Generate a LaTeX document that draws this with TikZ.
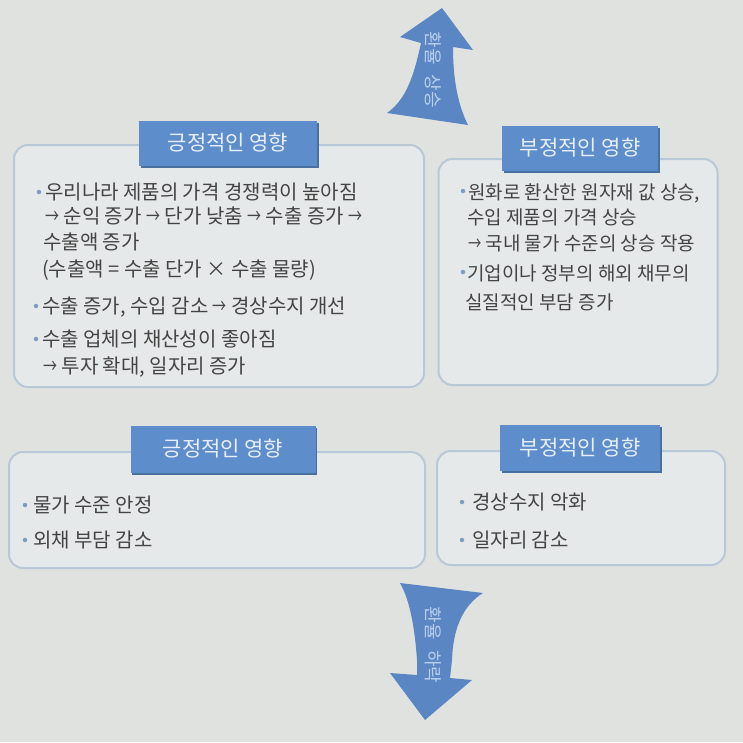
\documentclass[tikz,border=0pt]{standalone}
\usepackage{graphicx}
\usepackage{fontspec}
\setmainfont{Noto Sans CJK KR}
\usetikzlibrary{shadows}
\newcommand{\myarr}{\scalebox{0.7}[1]{→}}
\definecolor{bg}{HTML}{E0E2E0}
\definecolor{panelfill}{HTML}{E6E9E9}
\definecolor{panelline}{HTML}{B9C8D6}
\definecolor{hdrblue}{HTML}{5D8DCB}
\definecolor{hdrdark}{HTML}{48709F}
\definecolor{hdrtext}{HTML}{E8EFF8}
\definecolor{arrowblue}{HTML}{5A86C3}
\definecolor{arrowtext}{HTML}{B9D0EC}
\definecolor{textgray}{HTML}{444444}
\definecolor{bulletblue}{HTML}{7C9CC4}
\tikzset{
  panel/.style={draw=panelline, line width=2pt, rounded corners=14pt, fill=panelfill, inner sep=0pt},
  hdr/.style={fill=hdrblue, text=hdrtext, inner sep=0pt, font=\fontsize{21}{21}\selectfont,
    drop shadow={shadow xshift=1.5pt, shadow yshift=-2pt, fill=hdrdark, opacity=1}},
  txtL/.style={anchor=base west, inner sep=0pt, text=textgray, font=\fontsize{20}{20}\selectfont},
  txtR/.style={anchor=base west, inner sep=0pt, text=textgray, font=\fontsize{19}{19}\selectfont},
  bul/.style={circle, fill=bulletblue, inner sep=0pt, minimum size=4.5pt},
  bigarrow/.style={fill=arrowblue},
  arrowlabel/.style={text=arrowtext, rotate=-90, inner sep=0pt, font=\fontsize{18}{18}\selectfont}
}
\begin{document}
\begin{tikzpicture}[x=1pt,y=-1pt]
\useasboundingbox (0,0) rectangle (743,742);
\fill[bg] (0,0) rectangle (743,742);

% rising arrow
\fill[bigarrow] (387,113) .. controls (405,100) and (413,80) .. (421,43) -- (400,37) -- (442,8) -- (473,50) -- (453,47)
  .. controls (453,80) and (458,105) .. (468,125) -- cycle;
\node[arrowlabel] (up) at (433,70) {환율\hspace{10pt}상승};

% falling arrow
\fill[bigarrow] (400,583) -- (483,593) .. controls (462,606) and (453,630) .. (452,660) -- (450,678) -- (472,680)
  -- (425,720) -- (390,673) -- (417,675) -- (417,660) .. controls (415,630) and (410,600) .. (400,583) -- cycle;
\node[arrowlabel] (down) at (433,645) {환율\hspace{10pt}하락};

% panels
\node[panel, minimum width=410pt, minimum height=242pt] (p1) at (219,266) {};
\node[panel, minimum width=279pt, minimum height=226pt] (p2) at (578,272) {};
\node[panel, minimum width=416pt, minimum height=116pt] (p3) at (217,510) {};
\node[panel, minimum width=288pt, minimum height=114pt] (p4) at (581,508) {};

% headers
\node[hdr, minimum width=178pt, minimum height=45pt] (h1) at (228,143) {긍정적인 영향};
\node[hdr, minimum width=156pt, minimum height=45pt] (h2) at (580,148) {부정적인 영향};
\node[hdr, minimum width=185pt, minimum height=47pt] (h3) at (223,449) {긍정적인 영향};
\node[hdr, minimum width=160pt, minimum height=46pt] (h4) at (580,448) {부정적인 영향};

% top-left text
\node[bul] (b11) at (39,192) {};
\node[txtL] (t11) at (45,199) {우리나라 제품의 가격 경쟁력이 높아짐};
\node[txtL] (t12) at (45,223) {\myarr{} 순익 증가 \myarr{} 단가 낮춤 \myarr{} 수출 증가 \myarr};
\node[txtL] (t13) at (43,249) {수출액 증가};
\node[txtL] (t14) at (42,276) {(수출액 = 수출 단가 × 수출 물량)};
\node[bul] (b12) at (36,306) {};
\node[txtL] (t15) at (42,313) {수출 증가, 수입 감소 \myarr{} 경상수지 개선};
\node[bul] (b13) at (36,339) {};
\node[txtL] (t16) at (42,346) {수출 업체의 채산성이 좋아짐};
\node[txtL] (t17) at (43,373) {\myarr{} 투자 확대, 일자리 증가};

% top-right text
\node[bul] (b21) at (463,191) {};
\node[txtR] (t21) at (468,199) {원화로 환산한 원자재 값 상승,};
\node[txtR] (t22) at (467,224) {수입 제품의 가격 상승};
\node[txtR] (t23) at (468,250) {\myarr{} 국내 물가 수준의 상승 작용};
\node[bul] (b22) at (463,272) {};
\node[txtR] (t24) at (467,280) {기업이나 정부의 해외 채무의};
\node[txtR] (t25) at (465,309) {실질적인 부담 증가};

% bottom-left text
\node[bul] (b31) at (25,505) {};
\node[txtL] (t31) at (33,512) {물가 수준 안정};
\node[bul] (b32) at (25,540) {};
\node[txtL] (t32) at (33,547) {외채 부담 감소};

% bottom-right text
\node[bul] (b41) at (462,502) {};
\node[txtL] (t41) at (472,509) {경상수지 악화};
\node[bul] (b42) at (462,540) {};
\node[txtL] (t42) at (472,547) {일자리 감소};
\end{tikzpicture}
\end{document}
